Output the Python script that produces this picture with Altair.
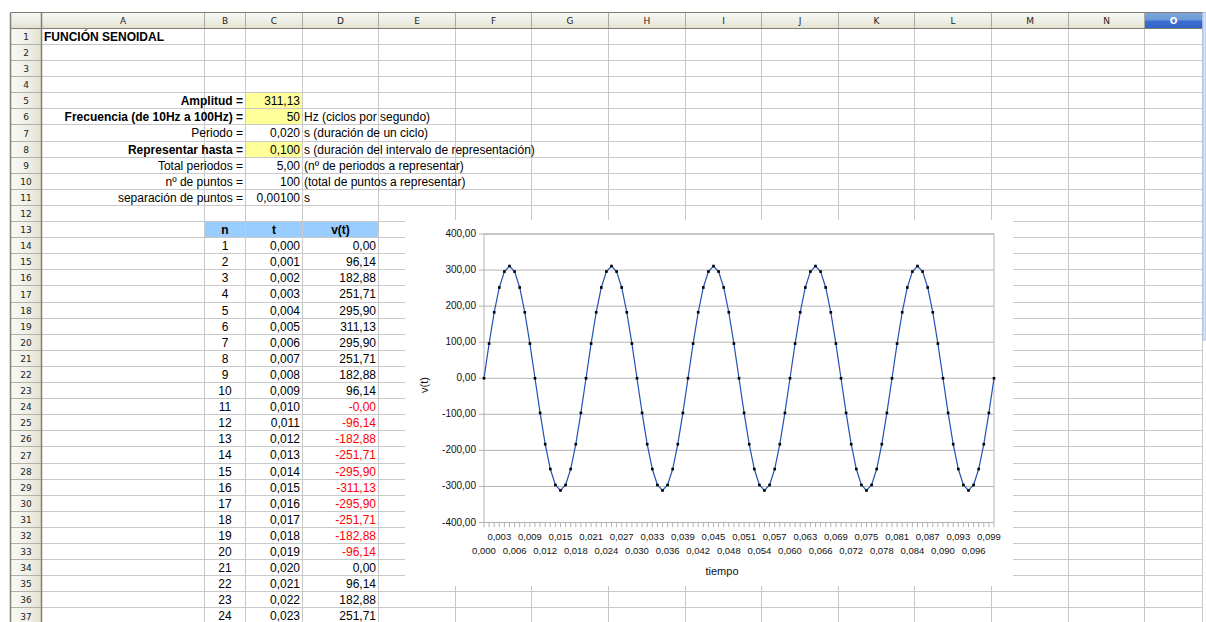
import math
import altair as alt
import pandas as pd

# ============================ DATA ============================
sheet_title = "FUNCIÓN SENOIDAL"

param_labels = ["Amplitud =", "Frecuencia (de 10Hz a 100Hz) =", "Periodo =",
                "Representar hasta =", "Total periodos =", "nº de puntos =",
                "separación de puntos ="]
param_values = ["311,13", "50", "0,020", "0,100", "5,00", "100", "0,00100"]
param_notes = ["", "Hz (ciclos por segundo)", "s (duración de un ciclo)",
               "s (duración del intervalo de representación)",
               "(nº de periodos a representar)", "(total de puntos a representar)", "s"]
param_bold = [True, True, False, True, False, False, False]
param_is_input = [True, True, False, True, False, False, False]

table_headers = ["n", "t", "v(t)"]
table_n = [1, 2, 3, 4, 5, 6, 7, 8, 9, 10, 11, 12,
           13, 14, 15, 16, 17, 18, 19, 20, 21, 22, 23, 24]
table_t = ["0,000", "0,001", "0,002", "0,003", "0,004", "0,005", "0,006", "0,007",
           "0,008", "0,009", "0,010", "0,011", "0,012", "0,013", "0,014", "0,015",
           "0,016", "0,017", "0,018", "0,019", "0,020", "0,021", "0,022", "0,023"]

# v(t) for the 101 plotted points (t = 0,000 ... 0,100)
v_t = [
    0.00, 96.14, 182.88, 251.71, 295.90, 311.13, 295.90, 251.71, 182.88, 96.14,
    -0.00, -96.14, -182.88, -251.71, -295.90, -311.13, -295.90, -251.71, -182.88, -96.14,
    0.00, 96.14, 182.88, 251.71, 295.90, 311.13, 295.90, 251.71, 182.88, 96.14,
    -0.00, -96.14, -182.88, -251.71, -295.90, -311.13, -295.90, -251.71, -182.88, -96.14,
    0.00, 96.14, 182.88, 251.71, 295.90, 311.13, 295.90, 251.71, 182.88, 96.14,
    -0.00, -96.14, -182.88, -251.71, -295.90, -311.13, -295.90, -251.71, -182.88, -96.14,
    0.00, 96.14, 182.88, 251.71, 295.90, 311.13, 295.90, 251.71, 182.88, 96.14,
    -0.00, -96.14, -182.88, -251.71, -295.90, -311.13, -295.90, -251.71, -182.88, -96.14,
    0.00, 96.14, 182.88, 251.71, 295.90, 311.13, 295.90, 251.71, 182.88, 96.14,
    -0.00, -96.14, -182.88, -251.71, -295.90, -311.13, -295.90, -251.71, -182.88, -96.14,
    0.00,
]

x_tick_labels = ["0,000", "0,003", "0,006", "0,009", "0,012", "0,015", "0,018", "0,021",
                 "0,024", "0,027", "0,030", "0,033", "0,036", "0,039", "0,042", "0,045",
                 "0,048", "0,051", "0,054", "0,057", "0,060", "0,063", "0,066", "0,069",
                 "0,072", "0,075", "0,078", "0,081", "0,084", "0,087", "0,090", "0,093",
                 "0,096", "0,099"]
y_tick_values = [400, 300, 200, 100, 0, -100, -200, -300, -400]
y_tick_labels = ["400,00", "300,00", "200,00", "100,00", "0,00",
                 "-100,00", "-200,00", "-300,00", "-400,00"]
x_title = "tiempo"
y_title = "v(t)"

column_names = ["A", "B", "C", "D", "E", "F", "G", "H", "I", "J", "K", "L", "M", "N", "O"]
selected_column = "O"
n_rows = 37

# ============================ LAYOUT ============================
W, H = 1206, 622
LEFT = 10.5
HDR_TOP, HDR_BOT = 12.5, 28.5
COL_EDGES = [41.5, 204.5, 245.5, 302.5, 378.5, 455.5, 531.5, 608.5, 685.5,
             761.5, 838.5, 914.5, 991.5, 1068.5, 1144.5, 1202.5]
ROW_EDGES = [math.floor(28.3 + k * 16.1) + 0.5 for k in range(n_rows + 1)]
CHART_BOX = (405, 1013, 220, 586)
PLOT_X = [484, 994]
PLOT_Y = [522.5, 234]
SHEET_FONT = "Liberation Sans"
HDR_FONT = "DejaVu Sans"
GRID = "#c9c9c9"

col_idx = {c: i for i, c in enumerate(column_names)}


def col_left(c):
    return COL_EDGES[col_idx[c]]


def col_right(c):
    return COL_EDGES[col_idx[c] + 1]


def row_mid(r):
    return (ROW_EDGES[r - 1] + ROW_EDGES[r]) / 2


PXS = alt.Scale(domain=[0, W], range=[0, W], nice=False, zero=False)
PYS = alt.Scale(domain=[0, H], range=[0, H], nice=False, zero=False)
SXS = alt.Scale(domain=[0, len(v_t) - 1], range=PLOT_X, nice=False, zero=False)
SYS = alt.Scale(domain=[-400, 400], range=PLOT_Y, nice=False, zero=False)


def px(f):
    return alt.X(f, type="quantitative", scale=PXS, axis=None)


def py(f):
    return alt.Y(f, type="quantitative", scale=PYS, axis=None)


layers = []


def rects(rows, **mark):
    df = pd.DataFrame(rows, columns=["x0", "x1", "y0", "y1"])
    layers.append(alt.Chart(df).mark_rect(**mark).encode(
        x=px("x0"), x2=alt.X2("x1"), y=py("y0"), y2=alt.Y2("y1")))


def rules(rows, **mark):
    df = pd.DataFrame(rows, columns=["x0", "x1", "y0", "y1"])
    layers.append(alt.Chart(df).mark_rule(**mark).encode(
        x=px("x0"), x2=alt.X2("x1"), y=py("y0"), y2=alt.Y2("y1")))


# ---- cell fills ----
input_rows = [5 + i for i, f in enumerate(param_is_input) if f]
rects([(col_left("C"), col_right("C"), ROW_EDGES[r - 1], ROW_EDGES[r]) for r in input_rows],
      color="#ffff99")
rects([(col_left("B"), col_right("D"), ROW_EDGES[12], ROW_EDGES[13])], color="#99ccff")

# ---- grid lines ----
rules([(x, x, HDR_BOT, H) for x in COL_EDGES[1:]], color=GRID, strokeWidth=1)
rules([(COL_EDGES[0], COL_EDGES[-1], y, y) for y in ROW_EDGES[1:]], color=GRID, strokeWidth=1)

# ---- headers ----
hdr_grad = alt.LinearGradient(gradient="linear", x1=0, y1=0, x2=0, y2=1, stops=[
    alt.GradientStop(color="#f7f7f4", offset=0), alt.GradientStop(color="#efefe8", offset=0.5),
    alt.GradientStop(color="#e2e1cd", offset=1)])
rects([(LEFT, COL_EDGES[-1], HDR_TOP, HDR_BOT)], color=hdr_grad)
sel_grad = alt.LinearGradient(gradient="linear", x1=0, y1=0, x2=0, y2=1, stops=[
    alt.GradientStop(color="#7ea8dc", offset=0), alt.GradientStop(color="#6b99d6", offset=0.45),
    alt.GradientStop(color="#3b6dd0", offset=0.55), alt.GradientStop(color="#3062c8", offset=1)])
rects([(col_left(selected_column), col_right(selected_column), HDR_TOP, HDR_BOT)], color=sel_grad)
rowhdr_grad = alt.LinearGradient(gradient="linear", x1=0, y1=0, x2=1, y2=0, stops=[
    alt.GradientStop(color="#f8f8f5", offset=0), alt.GradientStop(color="#f2f2ec", offset=0.45),
    alt.GradientStop(color="#e3e2cf", offset=1)])
rects([(LEFT, COL_EDGES[0], HDR_BOT, H)], color=rowhdr_grad)
rules([(x, x, HDR_TOP, HDR_BOT) for x in COL_EDGES[1:-1]], color="#a9a99d", strokeWidth=1)
rules([(LEFT, COL_EDGES[0], y, y) for y in ROW_EDGES[1:]], color="#b2b2a8", strokeWidth=1)
rules([(LEFT, COL_EDGES[-1], HDR_BOT, HDR_BOT), (LEFT, COL_EDGES[-1], HDR_TOP, HDR_TOP)],
      color="#7f7f78", strokeWidth=1)
rules([(COL_EDGES[0], COL_EDGES[0], HDR_TOP, H), (LEFT, LEFT, HDR_TOP, H)],
      color="#808078", strokeWidth=1.5)
rects([(1203, 1206, HDR_TOP, 340)], color="#d8e4fa", stroke="#a9bfe9", strokeWidth=1)

# ---- cell texts ----
texts = []  # x, y, text, align, bold, color, size, font


def add(x, y, t, align, bold=False, color="#000000", size=12, font=SHEET_FONT):
    texts.append(dict(x=x, y=y, text=t, align=align, bold=bold, color=color, size=size, font=font))


for c in column_names:
    add((col_left(c) + col_right(c)) / 2, (HDR_TOP + HDR_BOT) / 2 + 0.5, c, "center",
        bold=(c == selected_column), color="#ffffff" if c == selected_column else "#222222",
        size=9, font=HDR_FONT)
for r in range(1, n_rows + 1):
    add((LEFT + COL_EDGES[0]) / 2, row_mid(r) + 0.5, str(r), "center", color="#222222",
        size=9, font=HDR_FONT)

add(col_left("A") + 2.5, row_mid(1), sheet_title, "left", bold=True)
for i, lab in enumerate(param_labels):
    r = 5 + i
    add(col_right("B") - 2.5, row_mid(r), lab, "right", bold=param_bold[i])
    add(col_right("C") - 2.5, row_mid(r), param_values[i], "right")
    if param_notes[i]:
        add(col_left("D") + 1.5, row_mid(r), param_notes[i], "left")
for c, h in zip(["B", "C", "D"], table_headers):
    add((col_left(c) + col_right(c)) / 2, row_mid(13), h, "center", bold=True)
for k, n in enumerate(table_n):
    r = 14 + k
    add((col_left("B") + col_right("B")) / 2, row_mid(r), str(n), "center")
    add(col_right("C") - 2.5, row_mid(r), table_t[k], "right")
    s = f"{v_t[k]:.2f}".replace(".", ",")
    add(col_right("D") - 2.5, row_mid(r), s, "right",
        color="#ff0000" if s.startswith("-") else "#000000")

tdf = pd.DataFrame(texts)
for (align, bold, size, font), g in tdf.groupby(["align", "bold", "size", "font"]):
    layers.append(alt.Chart(g).mark_text(
        align=align, baseline="middle", font=font, fontSize=size,
        fontWeight="bold" if bold else "normal").encode(
        x=px("x"), y=py("y"), text="text:N", color=alt.Color("color:N", scale=None)))

# ---- embedded chart object ----
rects([CHART_BOX], color="#ffffff")

one = pd.DataFrame({"a": [0]})
sine = pd.DataFrame({"i": list(range(len(v_t))), "v": v_t})
ygrid = pd.DataFrame({"v": y_tick_values, "label": y_tick_labels})
xcat = pd.DataFrame({"i": list(range(len(v_t)))})
xlab = pd.DataFrame({"i": [3 * k for k in range(len(x_tick_labels))],
                     "label": x_tick_labels,
                     "row": [k % 2 for k in range(len(x_tick_labels))]})


def sx(f=None, datum=None):
    if datum is not None:
        return alt.X(datum=datum, type="quantitative", scale=SXS, axis=None)
    return alt.X(f, type="quantitative", scale=SXS, axis=None)


def sy(f=None, datum=None):
    if datum is not None:
        return alt.Y(datum=datum, type="quantitative", scale=SYS, axis=None)
    return alt.Y(f, type="quantitative", scale=SYS, axis=None)


AX = "#b3b3b3"
# horizontal grid lines (with outer tick stubs)
layers.append(alt.Chart(ygrid).mark_rule(color=AX, strokeWidth=1).encode(
    x=sx(datum=-1), x2=alt.X2(datum=len(v_t) - 1), y=sy("v")))
# plot frame
layers.append(alt.Chart(one).mark_rect(fill=None, stroke=AX, strokeWidth=1).encode(
    x=sx(datum=0), x2=alt.X2(datum=len(v_t) - 1), y=sy(datum=-400), y2=alt.Y2(datum=400)))
# category tick marks
layers.append(alt.Chart(xcat).mark_rule(color=AX, strokeWidth=1).encode(
    x=sx("i"), y=sy(datum=-400), y2=alt.Y2(datum=-413)))
# y labels
layers.append(alt.Chart(ygrid).mark_text(
    align="right", baseline="middle", font=SHEET_FONT, fontSize=10, dx=-8, color="#111111").encode(
    x=sx(datum=0), y=sy("v"), text="label:N"))
# x labels, staggered in two rows
for row, dy in [(1, 14.5), (0, 28.5)]:
    layers.append(alt.Chart(xlab[xlab["row"] == row]).mark_text(
        align="center", baseline="middle", font=SHEET_FONT, fontSize=9.5, dy=dy,
        color="#111111").encode(x=sx("i"), y=sy(datum=-400), text="label:N"))
# series
layers.append(alt.Chart(sine).mark_line(color="#2352b4", strokeWidth=1.2).encode(
    x=sx("i"), y=sy("v")))
layers.append(alt.Chart(sine).mark_square(color="#000000", size=7, opacity=1).encode(
    x=sx("i"), y=sy("v")))
# axis titles
titles = pd.DataFrame({"x": [722, 425], "y": [572, 385], "t": [x_title, y_title],
                       "angle": [0, 270]})
layers.append(alt.Chart(titles[titles["angle"] == 0]).mark_text(
    align="center", baseline="middle", font=SHEET_FONT, fontSize=11, color="#111111").encode(
    x=px("x"), y=py("y"), text="t:N"))
layers.append(alt.Chart(titles[titles["angle"] == 270]).mark_text(
    align="center", baseline="middle", font=SHEET_FONT, fontSize=11, angle=270,
    color="#111111").encode(x=px("x"), y=py("y"), text="t:N"))

chart = alt.layer(*layers).resolve_scale(x="independent", y="independent").properties(
    width=W, height=H, padding=0, autosize=alt.AutoSizeParams(type="none"),
    background="#ffffff").configure_view(stroke=None)

chart.save("out.html", embed_options={"renderer": "svg", "actions": False})
